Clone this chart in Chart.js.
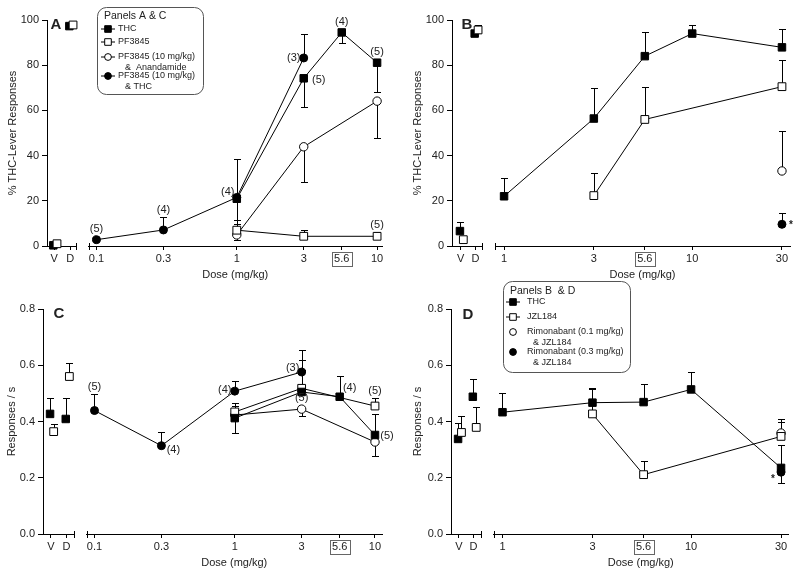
<!DOCTYPE html>
<html>
<head>
<meta charset="utf-8">
<title>Dose-response panels A-D</title>
<script src="https://cdn.jsdelivr.net/npm/chart.js@4.4.1/dist/chart.umd.min.js"></script>
<style>
html,body{margin:0;padding:0;background:#fff}
#wrap{position:relative;width:800px;height:575px;overflow:hidden;background:#fff}
canvas{position:absolute;display:block}
</style>
</head>
<body>
<div id="wrap">
<canvas id="aR" width="318" height="290" style="left:82px;top:0;width:318px;height:290px"></canvas>
<canvas id="aL" width="82" height="290" style="left:0;top:0;width:82px;height:290px"></canvas>
<canvas id="bR" width="312" height="290" style="left:488px;top:0;width:312px;height:290px"></canvas>
<canvas id="bL" width="88" height="290" style="left:400px;top:0;width:88px;height:290px"></canvas>
<canvas id="cR" width="320" height="305" style="left:80px;top:270px;width:320px;height:305px"></canvas>
<canvas id="cL" width="80" height="305" style="left:0;top:270px;width:80px;height:305px"></canvas>
<canvas id="dR" width="313" height="305" style="left:487px;top:270px;width:313px;height:305px"></canvas>
<canvas id="dL" width="87" height="305" style="left:400px;top:270px;width:87px;height:305px"></canvas>
</div>
<script>
// ---------------- DATA ----------------
const vdLabels = ['V', 'D'];

// Panels A & C (x doses)
const AC_doses = [0.1, 0.3, 1, 3, 5.6, 10];
const AC_tickDoses = [0.1, 0.3, 1, 3, 5.6, 10];
const AC_tickLabels = ['0.1', '0.3', '1', '3', '5.6', '10'];
// Panels B & D (x doses)
const BD_doses = [1, 3, 5.6, 10, 30];
const BD_tickDoses = [1, 3, 5.6, 10, 30];
const BD_tickLabels = ['1', '3', '5.6', '10', '30'];

const legendAC_title = 'Panels A & C';
const legendAC_names = [['THC'], ['PF3845'], ['PF3845 (10 mg/kg)', '&  Anandamide'], ['PF3845 (10 mg/kg)', '& THC']];
const legendBD_title = 'Panels B  & D';
const legendBD_names = [['THC'], ['JZL184'], ['Rimonabant (0.1 mg/kg)', '& JZL184'], ['Rimonabant (0.3 mg/kg)', '& JZL184']];

// Panel A: % THC-lever responses
const A_THC_vd = [0.3, 97.3];
const A_THC_vdErr = [null, null];
const A_THC = [null, null, 20.9, 74.2, 94.5, 81.1];
const A_THC_err = [null, null, 38.4, 61.4, 89.7, 68.1];
const A_PF_vd = [1.0, 97.8];
const A_PF_vdErr = [null, null];
const A_PF = [null, null, 7.0, 4.3, null, 4.3];
const A_PF_err = [null, null, 11.5, 7.2, null, 6.2];
const A_PFAEA = [null, null, 4.9, 43.9, null, 64.1];
const A_PFAEA_err = [null, null, 2.5, 28.1, null, 48.0];
const A_PFTHC = [2.8, 7.1, 21.5, 83.2, null, null];
const A_PFTHC_err = [4.0, 12.9, 9.9, 93.6, null, null];
const A_nLabels = [['PFTHC', 0.1, '(5)'], ['PFTHC', 0.3, '(4)'], ['THC', 1, '(4)'], ['PFTHC', 3, '(3)'],
                   ['THC', 3, '(5)'], ['THC', 5.6, '(4)'], ['THC', 10, '(5)'], ['PF', 10, '(5)']];

// Panel B: % THC-lever responses
const B_THC_vd = [6.6, 94.0];
const B_THC_vdErr = [10.6, null];
const B_THC = [22.0, 56.4, 84.0, 94.0, 87.9];
const B_THC_err = [30.3, 69.7, 94.8, 97.9, 95.9];
const B_JZL_vd = [2.8, 95.6];
const B_JZL_vdErr = [null, 97.6];
const B_JZL = [null, 22.3, 56.0, null, 70.5];
const B_JZL_err = [null, 32.5, 70.5, null, 82.4];
const B_R01 = [null, null, null, null, 33.2];
const B_R01_err = [null, null, null, null, 50.8];
const B_R03 = [null, null, null, null, 9.6];
const B_R03_err = [null, null, null, null, 14.8];
const B_marks = [['R03', 30, '*']];

// Panel C: responses / s
const C_THC_vd = [0.427, 0.409];
const C_THC_vdErr = [0.484, 0.484];
const C_THC = [null, null, 0.412, 0.505, 0.488, 0.352];
const C_THC_err = [null, null, 0.36, 0.583, 0.563, 0.427];
const C_PF_vd = [0.364, 0.56];
const C_PF_vdErr = [0.392, 0.607];
const C_PF = [null, null, 0.434, 0.518, null, 0.455];
const C_PF_err = [null, null, 0.466, 0.617, null, 0.482];
const C_PFAEA = [null, null, 0.423, 0.444, null, 0.327];
const C_PFAEA_err = [null, null, 0.455, 0.42, null, 0.276];
const C_PFTHC = [0.439, 0.314, 0.508, 0.576, null, null];
const C_PFTHC_err = [0.498, 0.361, 0.545, 0.653, null, null];
const C_nLabels = [['PFTHC', 0.1, '(5)'], ['PFTHC', 0.3, '(4)'], ['PFTHC', 1, '(4)'], ['PFTHC', 3, '(3)'],
                   ['PFAEA', 3, '(5)'], ['THC', 5.6, '(4)'], ['PF', 10, '(5)'], ['THC', 10, '(5)']];

// Panel D: responses / s
const D_THC_vd = [0.338, 0.488];
const D_THC_vdErr = [0.395, 0.551];
const D_THC = [0.433, 0.467, 0.469, 0.514, 0.235];
const D_THC_err = [0.5, 0.52, 0.534, 0.575, 0.316];
const D_JZL_vd = [0.361, 0.379];
const D_JZL_vdErr = [0.421, 0.45];
const D_JZL = [null, 0.427, 0.211, null, 0.347];
const D_JZL_err = [null, 0.517, 0.258, null, 0.398];
const D_R01 = [null, null, null, null, 0.359];
const D_R01_err = [null, null, null, null, 0.41];
const D_R03 = [null, null, null, null, 0.22];
const D_R03_err = [null, null, null, null, 0.18];
const D_marks = [['R03', 30, '*']];

// ---------------- STYLE ----------------
const FONT = "'Liberation Sans', Arial, Helvetica, sans-serif";
Chart.defaults.font.family = FONT;
Chart.defaults.font.size = 11;
Chart.defaults.color = '#222';
Chart.defaults.animation = false;
Chart.defaults.events = [];
Chart.defaults.plugins.legend.display = false;
Chart.defaults.plugins.tooltip.enabled = false;

const MARK = {
  fsq: {pointStyle: 'rect', r: 5.3, fill: '#000', dodge: -0.05},
  osq: {pointStyle: 'rect', r: 5.5, fill: '#fff', dodge: 0.18},
  oci: {pointStyle: 'circle', r: 4.2, fill: '#fff', dodge: 0.18},
  fci: {pointStyle: 'circle', r: 4.0, fill: '#000', dodge: 0}
};
function dsStyle(m) {
  const s = MARK[m];
  return {pointStyle: s.pointStyle, pointRadius: s.r, pointBackgroundColor: s.fill,
    pointBorderColor: '#000', pointBorderWidth: 1, borderColor: '#000', borderWidth: 1,
    backgroundColor: s.fill, tension: 0, clip: false};
}

// error bars (drawn below markers)
const errPlugin = {
  id: 'errbars',
  beforeDatasetsDraw(chart) {
    const c = chart.ctx, ys = chart.scales.y;
    c.save(); c.strokeStyle = '#000'; c.lineWidth = 1;
    chart.data.datasets.forEach((ds, i) => {
      if (!ds.errVals) return;
      const meta = chart.getDatasetMeta(i);
      ds.errVals.forEach((e, j) => {
        if (e == null) return;
        const p = meta.data[j];
        const x = Math.round(p.x) + 0.5;
        const ey = Math.round(ys.getPixelForValue(e)) + 0.5;
        c.beginPath(); c.moveTo(x, p.y); c.lineTo(x, ey);
        c.moveTo(x - 3.5, ey); c.lineTo(x + 3.5, ey); c.stroke();
      });
    });
    c.restore();
  }
};
function endMark(side) {
  return {id: 'brk', afterDraw(chart) {
    const a = chart.chartArea, c = chart.ctx;
    const x = Math.round(side === 'right' ? a.right : a.left) + 0.5;
    c.save(); c.strokeStyle = '#000'; c.lineWidth = 1;
    c.beginPath(); c.moveTo(x, a.bottom - 3); c.lineTo(x, a.bottom + 4); c.stroke();
    c.restore();
  }};
}
function textPlugin(items) {
  return {id: 'txt', afterDatasetsDraw(chart) {
    const c = chart.ctx;
    c.save(); c.textAlign = 'center'; c.textBaseline = 'middle'; c.fillStyle = '#222';
    items.forEach(it => {
      let x = it.x, y = it.y;
      if (it.key !== undefined) {
        const di = chart.data.datasets.findIndex(d => d.key === it.key);
        const ds = chart.data.datasets[di];
        const j = ds.xs.indexOf(it.at);
        const p = chart.getDatasetMeta(di).data[j];
        x = p.x; y = p.y;
      }
      c.font = it.font;
      c.fillText(it.text, x + it.dx, y + it.dy);
    });
    c.restore();
  }};
}
function boxTick(value) {
  return {id: 'boxtick', afterDraw(chart) {
    const s = chart.scales.x, c = chart.ctx;
    const x = s.getPixelForValue(value);
    const y = s.top + 12.5;
    c.save(); c.strokeStyle = '#666'; c.lineWidth = 1;
    c.strokeRect(Math.round(x - 10) + 0.5, Math.round(y - 7) + 0.5, 20, 14);
    c.restore();
  }};
}
function drawMark(c, m, x, y, line) {
  const s = MARK[m];
  c.save(); c.strokeStyle = '#000'; c.lineWidth = 1;
  if (line) { c.beginPath(); c.moveTo(x - 7, y); c.lineTo(x + 7, y); c.stroke(); }
  c.fillStyle = s.fill; c.beginPath();
  if (s.pointStyle === 'rect') { const h = 3.3; c.rect(x - h, y - h, 2 * h, 2 * h); }
  else { c.arc(x, y, 3.4, 0, Math.PI * 2); }
  c.fill(); c.stroke(); c.restore();
}
function legendPlugin(L) {
  return {id: 'lg', afterDraw(chart) {
    const c = chart.ctx;
    c.save();
    const x = L.x + 0.5, y = L.y + 0.5, w = L.w, h = L.h, r = 9;
    c.beginPath();
    c.moveTo(x + r, y); c.lineTo(x + w - r, y); c.arcTo(x + w, y, x + w, y + r, r);
    c.lineTo(x + w, y + h - r); c.arcTo(x + w, y + h, x + w - r, y + h, r);
    c.lineTo(x + r, y + h); c.arcTo(x, y + h, x, y + h - r, r);
    c.lineTo(x, y + r); c.arcTo(x, y, x + r, y, r); c.closePath();
    c.fillStyle = '#fff'; c.fill(); c.strokeStyle = '#555'; c.lineWidth = 1; c.stroke();
    c.fillStyle = '#222'; c.textAlign = 'left'; c.textBaseline = 'middle';
    c.font = '10.5px ' + FONT;
    c.fillText(L.title, L.x + L.tx, L.y + L.ty);
    c.font = '9px ' + FONT;
    L.items.forEach((it, k) => {
      const yy = L.y + L.rows[k];
      drawMark(c, it.mark, L.x + L.mx, yy, it.line);
      it.text.forEach((t, q) => {
        c.fillStyle = '#222';
        c.fillText(t, L.x + (q ? L.cx : L.ix), yy + q * 10.5);
      });
    });
    c.restore();
  }};
}

function makePanel(P) {
  // ---- left (V / D) chart ----
  const leftDs = [];
  P.series.slice().reverse().forEach(s => {
    if (!s.vd) return;
    const pts = [], errs = [];
    s.vd.forEach((v, i) => {
      if (v == null) return;
      pts.push({x: i + MARK[s.mark].dodge, y: v});
      errs.push(s.vdErr ? s.vdErr[i] : null);
    });
    leftDs.push(Object.assign({label: s.key, key: s.key, data: pts, errVals: errs, showLine: false}, dsStyle(s.mark)));
  });
  const yScale = {
    type: 'linear', min: P.yMin, max: P.yMax,
    afterBuildTicks: sc => { sc.ticks = P.yTicks.map(v => ({value: v})); },
    grid: {drawOnChartArea: false, tickLength: 5, color: '#000'},
    border: {color: '#000', width: 1}
  };
  new Chart(document.getElementById(P.lId), {
    type: 'line',
    data: {datasets: leftDs},
    options: {
      responsive: false, maintainAspectRatio: false, devicePixelRatio: 1,
      layout: {padding: {top: P.padTop, left: 0, right: P.lPadR, bottom: 0}},
      scales: {
        x: {type: 'linear', min: P.vdMin, max: P.vdMax, bounds: 'data',
            afterBuildTicks: sc => { sc.ticks = [{value: 0}, {value: 1}]; },
            ticks: {callback: v => vdLabels[v], autoSkip: false, maxRotation: 0, padding: 2, color: '#222'},
            grid: {drawOnChartArea: false, tickLength: 4, color: '#000'},
            border: {color: '#000', width: 1},
            afterFit: sc => { sc.height = P.xH; }},
        y: Object.assign({}, yScale, {
            ticks: {callback: v => P.yFmt(v), padding: 3, color: '#222', autoSkip: false},
            title: {display: true, text: P.yTitle, color: '#222', font: {size: 11}, padding: {top: P.yTitlePad, bottom: 0}},
            afterFit: sc => { sc.width = P.yW; }})
      }
    },
    plugins: [errPlugin, endMark('right'),
      textPlugin([{x: P.letter[1], y: P.letter[2], dx: 0, dy: 0, text: P.letter[0], font: 'bold 15px ' + FONT}])]
  });

  // ---- right (dose) chart ----
  const rightDs = P.series.map(s => {
    const pts = [], errs = [], xs = [];
    P.doses.forEach((d, i) => {
      if (s.vals[i] == null) return;
      pts.push({x: d, y: s.vals[i]}); errs.push(s.errs[i]); xs.push(d);
    });
    return Object.assign({label: s.key, key: s.key, data: pts, errVals: errs, xs: xs, showLine: s.line}, dsStyle(s.mark));
  });
  const plugins = [errPlugin, endMark('left'), boxTick(5.6), textPlugin(P.ann)];
  if (P.legend) plugins.push(legendPlugin(P.legend));
  new Chart(document.getElementById(P.rId), {
    type: 'line',
    data: {datasets: rightDs},
    options: {
      responsive: false, maintainAspectRatio: false, devicePixelRatio: 1,
      layout: {padding: {top: P.padTop, left: P.rPadL, right: P.rPadR, bottom: 0}},
      scales: {
        x: {type: 'logarithmic', min: P.doseMin, max: P.doseMax, bounds: 'data',
            afterBuildTicks: sc => { sc.ticks = P.doseTicks.map(v => ({value: v})); },
            ticks: {callback: (v, i) => P.doseLabels[i], autoSkip: false, maxRotation: 0, padding: 2, color: '#222'},
            grid: {drawOnChartArea: false, tickLength: 4, color: '#000'},
            border: {color: '#000', width: 1},
            title: {display: true, text: 'Dose (mg/kg)', color: '#222', font: {size: 11}, padding: {top: 0, bottom: P.xTitlePad}},
            afterFit: sc => { sc.height = P.xH; }},
        y: Object.assign({}, yScale, {display: false})
      }
    },
    plugins: plugins
  });
}

const F11 = '11px ' + FONT;
function ann(list, offs, font) {
  return list.map((a, k) => ({key: a[0], at: a[1], text: a[2], dx: offs[k][0], dy: offs[k][1], font: font || F11}));
}

// ---- Panel A ----
makePanel({
  lId: 'aL', rId: 'aR',
  yMin: 0, yMax: 100, yTicks: [0, 20, 40, 60, 80, 100], yFmt: v => String(v),
  yTitle: '% THC-Lever Responses', yTitlePad: 6.4, yW: 47,
  padTop: 20, xH: 44, xTitlePad: 8,
  vdMin: -0.444, vdMax: 1.333, lPadR: 3,
  doseMin: 0.0877, doseMax: 10.84, rPadL: 5, rPadR: 18,
  doses: AC_doses, doseTicks: AC_tickDoses, doseLabels: AC_tickLabels,
  letter: ['A', 56, 25],
  series: [
    {key: 'THC', mark: 'fsq', line: true, vd: A_THC_vd, vdErr: A_THC_vdErr, vals: A_THC, errs: A_THC_err},
    {key: 'PF', mark: 'osq', line: true, vd: A_PF_vd, vdErr: A_PF_vdErr, vals: A_PF, errs: A_PF_err},
    {key: 'PFAEA', mark: 'oci', line: true, vals: A_PFAEA, errs: A_PFAEA_err},
    {key: 'PFTHC', mark: 'fci', line: true, vals: A_PFTHC, errs: A_PFTHC_err}
  ],
  ann: ann(A_nLabels, [[0, -11], [0, -20], [-9, -7], [-10, 0], [15, 2], [0, -10], [0, -11], [0, -11]]),
  legend: {x: 15, y: 7, w: 106, h: 87, title: legendAC_title, tx: 7, ty: 9, mx: 11, ix: 21, cx: 28,
    rows: [22, 35, 50, 69],
    items: [{mark: 'fsq', line: true, text: legendAC_names[0]}, {mark: 'osq', line: true, text: legendAC_names[1]},
            {mark: 'oci', line: true, text: legendAC_names[2]}, {mark: 'fci', line: true, text: legendAC_names[3]}]}
});

// ---- Panel B ----
makePanel({
  lId: 'bL', rId: 'bR',
  yMin: 0, yMax: 100, yTicks: [0, 20, 40, 60, 80, 100], yFmt: v => String(v),
  yTitle: '% THC-Lever Responses', yTitlePad: 11.4, yW: 52,
  padTop: 20, xH: 44, xTitlePad: 8,
  vdMin: -0.588, vdMax: 1.412, lPadR: 2,
  doseMin: 0.895, doseMax: 33.1, rPadL: 7, rPadR: 10,
  doses: BD_doses, doseTicks: BD_tickDoses, doseLabels: BD_tickLabels,
  letter: ['B', 67, 25],
  series: [
    {key: 'THC', mark: 'fsq', line: true, vd: B_THC_vd, vdErr: B_THC_vdErr, vals: B_THC, errs: B_THC_err},
    {key: 'JZL', mark: 'osq', line: true, vd: B_JZL_vd, vdErr: B_JZL_vdErr, vals: B_JZL, errs: B_JZL_err},
    {key: 'R01', mark: 'oci', line: false, vals: B_R01, errs: B_R01_err},
    {key: 'R03', mark: 'fci', line: false, vals: B_R03, errs: B_R03_err}
  ],
  ann: ann(B_marks, [[9, 1]], 'bold 10px ' + FONT)
});

// ---- Panel C ----
makePanel({
  lId: 'cL', rId: 'cR',
  yMin: 0, yMax: 0.8, yTicks: [0, 0.2, 0.4, 0.6, 0.8], yFmt: v => v.toFixed(1),
  yTitle: 'Responses / s', yTitlePad: 5.4, yW: 43,
  padTop: 39, xH: 41, xTitlePad: 5,
  vdMin: -0.5, vdMax: 1.444, lPadR: 2,
  doseMin: 0.0877, doseMax: 11.22, rPadL: 6, rPadR: 18,
  doses: AC_doses, doseTicks: AC_tickDoses, doseLabels: AC_tickLabels,
  letter: ['C', 59, 44],
  series: [
    {key: 'THC', mark: 'fsq', line: true, vd: C_THC_vd, vdErr: C_THC_vdErr, vals: C_THC, errs: C_THC_err},
    {key: 'PF', mark: 'osq', line: true, vd: C_PF_vd, vdErr: C_PF_vdErr, vals: C_PF, errs: C_PF_err},
    {key: 'PFAEA', mark: 'oci', line: true, vals: C_PFAEA, errs: C_PFAEA_err},
    {key: 'PFTHC', mark: 'fci', line: true, vals: C_PFTHC, errs: C_PFTHC_err}
  ],
  ann: ann(C_nLabels, [[0, -24], [12, 4], [-10, -1], [-9, -4], [0, -11], [10, -9], [0, -15], [12, 1]])
});

// ---- Panel D ----
makePanel({
  lId: 'dL', rId: 'dR',
  yMin: 0, yMax: 0.8, yTicks: [0, 0.2, 0.4, 0.6, 0.8], yFmt: v => v.toFixed(1),
  yTitle: 'Responses / s', yTitlePad: 11.4, yW: 51,
  padTop: 39, xH: 41, xTitlePad: 5,
  vdMin: -0.529, vdMax: 1.47, lPadR: 2,
  doseMin: 0.896, doseMax: 32.66, rPadL: 6, rPadR: 12,
  doses: BD_doses, doseTicks: BD_tickDoses, doseLabels: BD_tickLabels,
  letter: ['D', 68, 45],
  series: [
    {key: 'THC', mark: 'fsq', line: true, vd: D_THC_vd, vdErr: D_THC_vdErr, vals: D_THC, errs: D_THC_err},
    {key: 'JZL', mark: 'osq', line: true, vd: D_JZL_vd, vdErr: D_JZL_vdErr, vals: D_JZL, errs: D_JZL_err},
    {key: 'R01', mark: 'oci', line: false, vals: D_R01, errs: D_R01_err},
    {key: 'R03', mark: 'fci', line: false, vals: D_R03, errs: D_R03_err}
  ],
  ann: ann(D_marks, [[-8, 7]], 'bold 10px ' + FONT),
  legend: {x: 16, y: 11, w: 127, h: 91, title: legendBD_title, tx: 7, ty: 10, mx: 10, ix: 24, cx: 30,
    rows: [21, 36, 51, 71],
    items: [{mark: 'fsq', line: true, text: legendBD_names[0]}, {mark: 'osq', line: true, text: legendBD_names[1]},
            {mark: 'oci', line: false, text: legendBD_names[2]}, {mark: 'fci', line: false, text: legendBD_names[3]}]}
});
</script>
</body>
</html>
